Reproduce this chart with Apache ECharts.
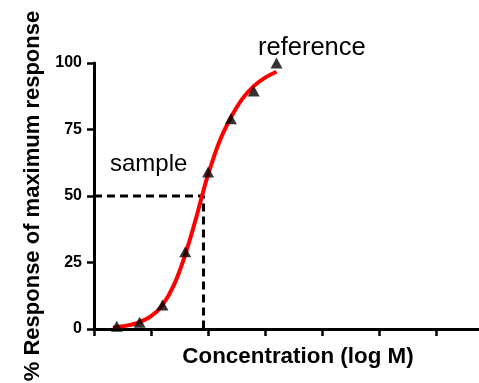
<!DOCTYPE html>
<html>
<head>
<meta charset="utf-8">
<script src="https://cdn.jsdelivr.net/npm/echarts@6/dist/echarts.min.js"></script>
<style>
html,body{margin:0;padding:0;background:#fff;}
#main{width:479px;height:383px;}
</style>
</head>
<body>
<div id="main"></div>
<script>
// Observed data points (log M, % response)
var pointX = [0.4, 0.8, 1.2, 1.6, 2.0, 2.4, 2.8, 3.2];
var pointY = [1, 2.5, 9, 29, 59, 79, 89.5, 100];

// Fitted curve
var curveX = [0.33, 0.5, 0.75, 1.0, 1.2, 1.4, 1.6, 1.8, 1.9, 2.0, 2.2, 2.4, 2.6, 2.8, 3.0, 3.2];
var curveY = [0.5, 1.0, 2.2, 4.8, 9.0, 16.5, 28.0, 42.5, 50.5, 58.0, 70.5, 79.5, 86.5, 91.3, 94.5, 96.7];

// EC50 guide lines
var guideX = [0, 1.92, 1.92];
var guideY = [50, 50, 0];

var xTicks = [0, 1, 2, 3, 4, 5, 6];
var yTicks = [0, 25, 50, 75, 100];

var FONT = 'Liberation Sans, Arial, Helvetica, sans-serif';

function zip(a, b) { return a.map(function (v, i) { return [v, b[i]]; }); }

var chart = echarts.init(document.getElementById('main'), null, {renderer: 'canvas'});
chart.setOption({
  animation: false,
  backgroundColor: '#ffffff',
  grid: {left: 94, right: 0, top: 63, bottom: 54, containLabel: false, outerBoundsMode: 'none'},
  xAxis: {
    type: 'value',
    min: 0, max: 6.75, interval: 1,
    name: 'Concentration (log M)',
    nameLocation: 'middle',
    nameGap: 17,
    nameTextStyle: {fontFamily: FONT, fontSize: 22.4, fontWeight: 'bold', color: '#000', padding: [0, 0, 0, 23], verticalAlign: 'top'},
    axisLine: {show: true, onZero: false, lineStyle: {color: '#000', width: 3}},
    axisTick: {show: true, inside: false, length: 7, customValues: xTicks, lineStyle: {color: '#000', width: 2.5}},
    axisLabel: {show: false},
    splitLine: {show: false}
  },
  yAxis: {
    type: 'value',
    min: 0, max: 100, interval: 25,
    name: '% Response of maximum response',
    nameLocation: 'middle',
    nameRotate: 90,
    nameGap: 45,
    nameTextStyle: {fontFamily: FONT, fontSize: 22, fontWeight: 'bold', color: '#000', padding: [0, 0, 0, 0]},
    axisLine: {show: true, onZero: false, lineStyle: {color: '#000', width: 3}},
    axisTick: {show: true, inside: false, length: 7, lineStyle: {color: '#000', width: 2.5}},
    axisLabel: {show: true, margin: 12, fontFamily: FONT, fontSize: 16, fontWeight: 'bold', color: '#000',
      customValues: yTicks, padding: [3, 0, 0, 0]},
    splitLine: {show: false}
  },
  graphic: [
    {type: 'text', left: 110, top: 152, style: {text: 'sample', font: '24px ' + FONT, fill: '#000'}},
    {type: 'text', left: 258, top: 35, style: {text: 'reference', font: '25.5px ' + FONT, fill: '#000'}}
  ],
  series: [
    {
      type: 'line',
      data: zip(guideX, guideY),
      symbol: 'none',
      lineStyle: {color: '#000', width: 3, type: [8, 5]},
      z: 2
    },
    {
      type: 'line',
      data: zip(curveX, curveY),
      smooth: 0.4,
      symbol: 'none',
      lineStyle: {color: '#ff0000', width: 4},
      z: 3
    },
    {
      type: 'scatter',
      data: zip(pointX, pointY),
      symbol: 'triangle',
      symbolSize: [12, 11],
      itemStyle: {color: '#000'},
      z: 4
    }
  ]
});
</script>
</body>
</html>
